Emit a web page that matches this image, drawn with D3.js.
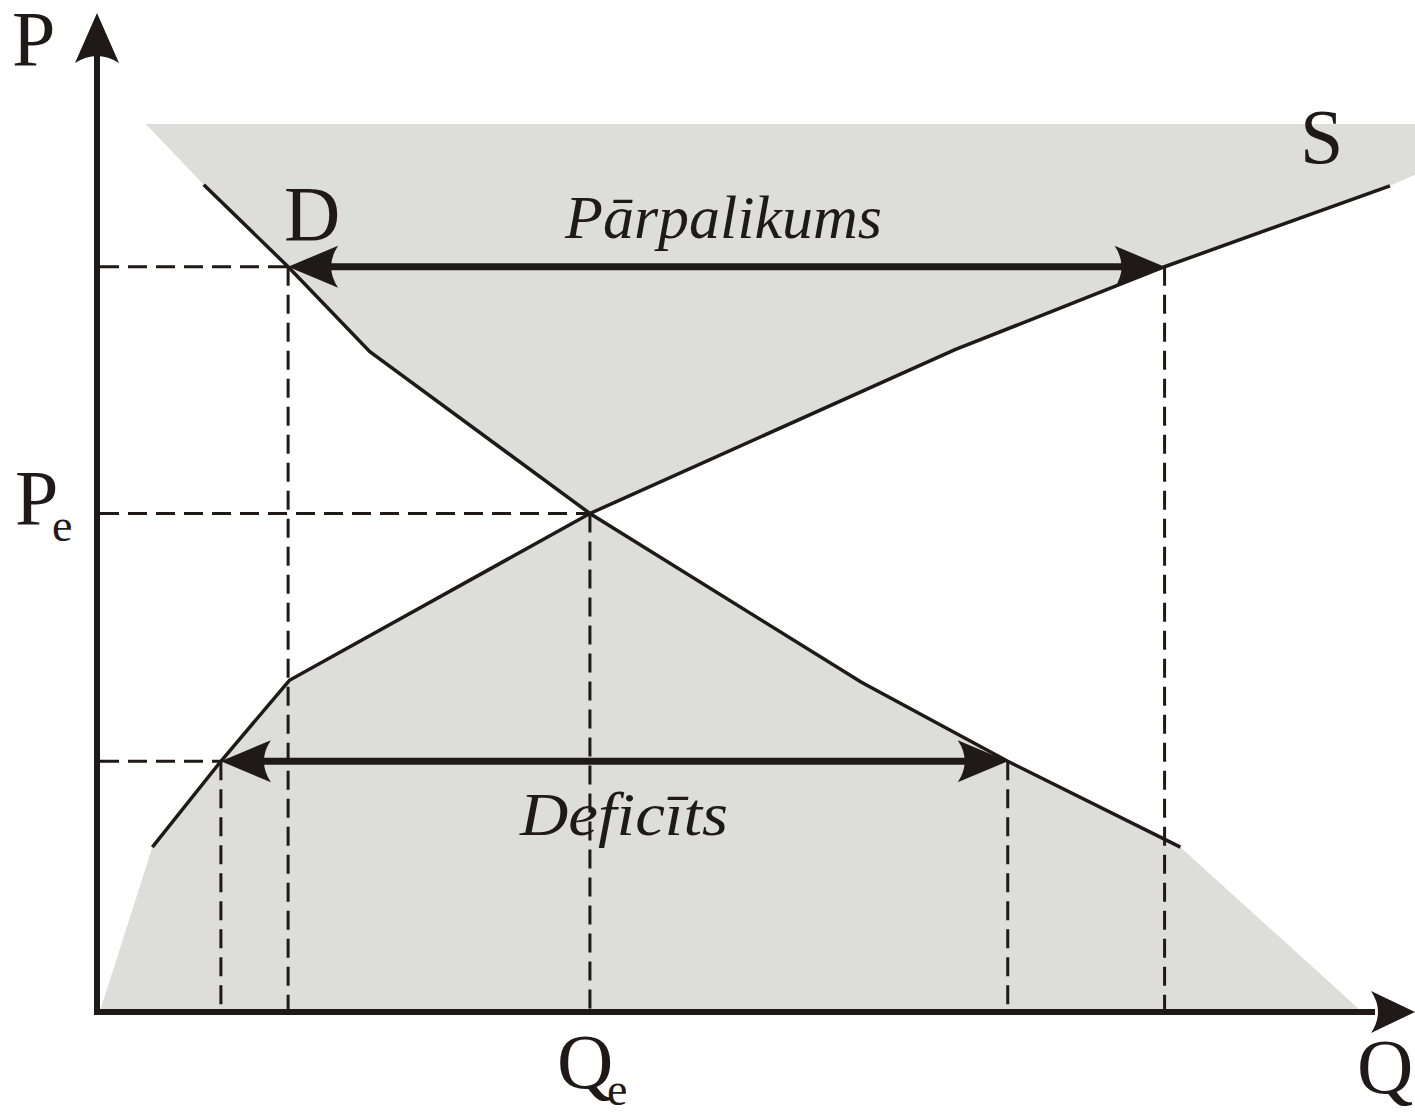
<!DOCTYPE html>
<html>
<head>
<meta charset="utf-8">
<script src="https://cdn.jsdelivr.net/npm/d3@7"></script>
<style>
    html, body { margin: 0; padding: 0; background: #fff; }
    svg { display: block; }
    text { font-family: 'Liberation Serif', 'DejaVu Serif', serif; fill: #1f1a17; }
</style>
</head>
<body>
<svg></svg>
<script>
// ---------------------------------------------------------
// Data (abstract units, Q and P both 0..100)
const supplyQ = [4.2, 9.4, 14.6, 37.4, 65.1, 81.0, 98.1];
const supplyP = [16.5, 25.1, 33.2, 49.9, 66.3, 74.6, 82.7];
const demandQ = [8.1, 14.5, 20.7, 37.4, 58.0, 69.1, 82.2];
const demandP = [82.8, 74.6, 66.1, 49.9, 33.0, 25.1, 16.5];

// price levels and quantities
const priceHigh = 74.6;
const priceEq = 49.9;
const priceLow = 25.1;
const qtyEq = 37.4;
const qtyDemandHigh = 14.5;
const qtySupplyHigh = 81.0;
const qtySupplyLow = 9.4;
const qtyDemandLow = 69.1;

// shaded area extensions
const surplusTopP = 88.9;
const surplusTopLeftQ = 3.7;
const surplusRightQ = 100;
const surplusRightP = 83.8;
const shortageLeftQ = 0.2;
const shortageRightQ = 96.0;

const labels = { price: 'P', qty: 'Q', demand: 'D', supply: 'S', surplus: 'Pārpalikums', shortage: 'Deficīts' };

// ---------------------------------------------------------
const canvasW = 1415;
const canvasH = 1112;
const ink = '#1f1a17';
const shade = '#dddddc';

const svg = d3.select('svg').attr('width', canvasW).attr('height', canvasH);

var xScale = d3.scaleLinear().domain([0, 100]).range([97, 1415]);
var yScale = d3.scaleLinear().domain([0, 100]).range([1012, 13]);

const supply = supplyQ.map((q, i) => [q, supplyP[i]]);
const demand = demandQ.map((q, i) => [q, demandP[i]]);
const eqIdxS = supplyQ.indexOf(qtyEq);
const eqIdxD = demandQ.indexOf(qtyEq);

var line = d3
    .line()
    .x((d) => xScale(d[0]))
    .y((d) => yScale(d[1]));

// ---------------------------------------------------------
// Shaded areas
const surplusArea = [
    [surplusTopLeftQ, surplusTopP],
    [surplusRightQ, surplusTopP],
    [surplusRightQ, surplusRightP],
]
    .concat(supply.slice(eqIdxS).reverse())
    .concat(demand.slice(0, eqIdxD).reverse());

const shortageArea = [[shortageLeftQ, 0]]
    .concat(supply.slice(0, eqIdxS + 1))
    .concat(demand.slice(eqIdxD + 1))
    .concat([[shortageRightQ, 0]]);

svg.append('path').attr('d', line(surplusArea) + 'Z').attr('fill', shade);
svg.append('path').attr('d', line(shortageArea) + 'Z').attr('fill', shade);

// ---------------------------------------------------------
// Dashed guide lines
const hGuides = [
    [priceHigh, qtyDemandHigh],
    [priceEq, qtyEq],
    [priceLow, qtySupplyLow],
];
const vGuides = [
    [qtyDemandHigh, priceHigh],
    [qtySupplyHigh, priceHigh],
    [qtyEq, priceEq],
    [qtySupplyLow, priceLow],
    [qtyDemandLow, priceLow],
];
const guides = svg
    .append('g')
    .attr('stroke', ink)
    .attr('stroke-width', 3)
    .attr('stroke-dasharray', '19 9');
guides
    .selectAll('.hg')
    .data(hGuides)
    .enter()
    .append('line')
    .attr('x1', xScale(0) + 3)
    .attr('x2', (d) => xScale(d[1]))
    .attr('y1', (d) => yScale(d[0]))
    .attr('y2', (d) => yScale(d[0]));
guides
    .selectAll('.vg')
    .data(vGuides)
    .enter()
    .append('line')
    .attr('x1', (d) => xScale(d[0]))
    .attr('x2', (d) => xScale(d[0]))
    .attr('y1', (d) => yScale(d[1]))
    .attr('y2', yScale(0));

// ---------------------------------------------------------
// Supply and demand curves
svg.append('path')
    .attr('d', line(supply))
    .attr('fill', 'none')
    .attr('stroke', ink)
    .attr('stroke-width', 3.5);
svg.append('path')
    .attr('d', line(demand))
    .attr('fill', 'none')
    .attr('stroke', ink)
    .attr('stroke-width', 3.5);

// ---------------------------------------------------------
// Arrow heads (concave back)
function arrowHead(x, y, angle, len, hw) {
    const depth = 7;
    const p = `M0,0 L${-len},${-hw} Q${-len + 2 * depth},0 ${-len},${hw} Z`;
    svg.append('path')
        .attr('d', p)
        .attr('fill', ink)
        .attr('transform', `translate(${x},${y}) rotate(${angle})`);
}

function doubleArrow(q1, q2, p) {
    const y = yScale(p);
    svg.append('line')
        .attr('x1', xScale(q1) + 30)
        .attr('x2', xScale(q2) - 30)
        .attr('y1', y)
        .attr('y2', y)
        .attr('stroke', ink)
        .attr('stroke-width', 7);
    arrowHead(xScale(q1), y, 180, 50, 21);
    arrowHead(xScale(q2), y, 0, 50, 21);
}

doubleArrow(qtyDemandHigh, qtySupplyHigh, priceHigh);
doubleArrow(qtySupplyLow, qtyDemandLow, priceLow);

// ---------------------------------------------------------
// Axes
svg.append('line')
    .attr('x1', xScale(0))
    .attr('x2', xScale(0))
    .attr('y1', yScale(0) + 3)
    .attr('y2', yScale(100) + 40)
    .attr('stroke', ink)
    .attr('stroke-width', 6);
svg.append('line')
    .attr('x1', xScale(0) - 3)
    .attr('x2', xScale(100) - 40)
    .attr('y1', yScale(0))
    .attr('y2', yScale(0))
    .attr('stroke', ink)
    .attr('stroke-width', 6);
arrowHead(xScale(0), yScale(100), -90, 50, 22);
arrowHead(xScale(100), yScale(0), 0, 44, 21);

// ---------------------------------------------------------
// Labels
function label(txt, x, y, size, sub) {
    const t = svg.append('text').attr('x', x).attr('y', y).style('font-size', size + 'px').text(txt);
    if (sub) {
        svg.append('text')
            .attr('x', sub[0])
            .attr('y', sub[1])
            .style('font-size', '46px')
            .text('e');
    }
    return t;
}

label(labels.price, 12, 65, 78);
label(labels.qty, 1357, 1093, 78);
label(labels.demand, 284, 240, 78);
label(labels.supply, 1300, 163, 78);
label(labels.price, 15, 524, 78, [52, 541]);
label(labels.qty, 557, 1088, 78, [607, 1105]);

label(labels.surplus, 565, 238, 62)
    .style('font-style', 'italic')
    .attr('textLength', 317)
    .attr('lengthAdjust', 'spacingAndGlyphs');
label(labels.shortage, 520, 835, 62)
    .style('font-style', 'italic')
    .attr('textLength', 208)
    .attr('lengthAdjust', 'spacingAndGlyphs');
</script>
</body>
</html>
